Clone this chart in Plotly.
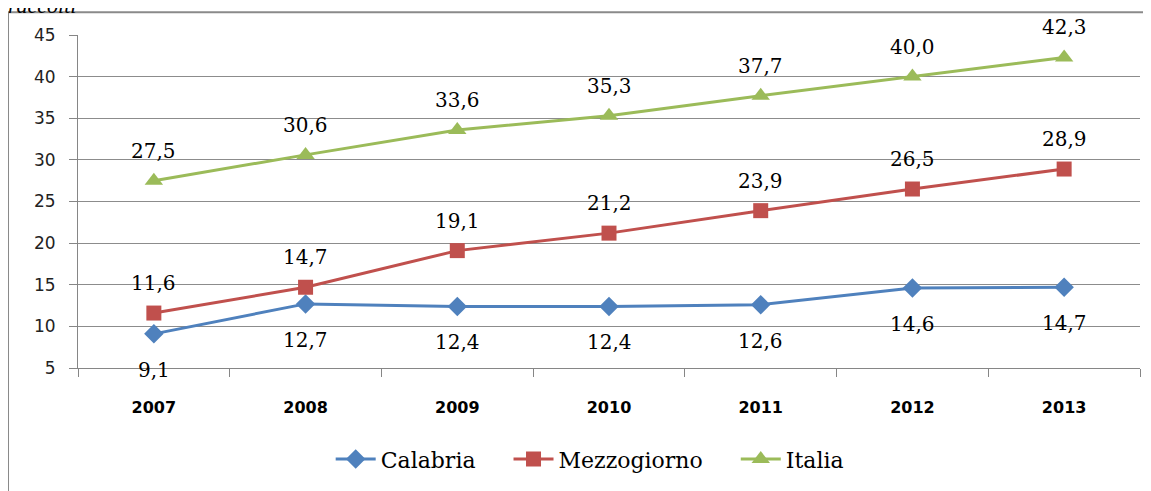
import plotly.graph_objects as go

years = ["2007", "2008", "2009", "2010", "2011", "2012", "2013"]
calabria = [9.1, 12.7, 12.4, 12.4, 12.6, 14.6, 14.7]
mezzogiorno = [11.6, 14.7, 19.1, 21.2, 23.9, 26.5, 28.9]
italia = [27.5, 30.6, 33.6, 35.3, 37.7, 40.0, 42.3]

series = [
    ("Calabria", calabria, "#4F81BD", "diamond", 15, -36),
    ("Mezzogiorno", mezzogiorno, "#C0504D", "square", 15, 30),
    ("Italia", italia, "#9BBB59", "triangle-up", 16, 30),
]

fig = go.Figure()
annotations = []
for name, vals, color, sym, msize, shift in series:
    fig.add_trace(go.Scatter(
        x=years, y=vals, name=name + "    ", mode="lines+markers",
        line=dict(color=color, width=3),
        marker=dict(symbol=sym, size=msize, color=color),
    ))
    for i, v in enumerate(vals):
        annotations.append(dict(
            x=i, y=v, xref="x", yref="y", text=f"{v:.1f}".replace(".", ","),
            showarrow=False, yshift=shift,
            font=dict(family="DejaVu Serif", size=20, color="black"),
        ))

annotations.append(dict(
    x=-0.068, y=1.046, xref="paper", yref="paper", xanchor="left", yanchor="bottom",
    text="<i>raccolti</i>", showarrow=False,
    font=dict(family="Liberation Serif", size=22, color="black"),
))

fig.update_layout(
    width=1143, height=483,
    margin=dict(l=70, r=11, t=27, b=120),
    paper_bgcolor="white", plot_bgcolor="white",
    annotations=annotations,
    showlegend=True,
    legend=dict(orientation="h", x=0.495, xanchor="center", y=-0.274, yanchor="middle",
                font=dict(family="DejaVu Serif", size=22, color="black"),
                itemwidth=40, tracegroupgap=0),
    shapes=[dict(type="rect", xref="paper", yref="paper",
                 x0=-0.0659, x1=1.03, y0=-0.45, y1=1.0685,
                 line=dict(color="#8a8a8a", width=2), layer="below")],
    xaxis=dict(
        type="category", range=[-0.5, 6.5],
        showline=True, linecolor="#868686", linewidth=1,
        ticks="outside", tickson="boundaries", ticklen=8, tickcolor="#868686",
        showgrid=False,
        tickfont=dict(family="DejaVu Sans", size=16, color="black", weight="bold"),
        ticklabelstandoff=25,
    ),
    yaxis=dict(
        range=[5, 45], dtick=5, tick0=5,
        showline=True, linecolor="#868686", linewidth=1,
        ticks="outside", ticklen=8, tickcolor="#868686",
        showgrid=True, gridcolor="#8c8c8c", gridwidth=1,
        zeroline=False,
        tickfont=dict(family="DejaVu Sans", size=17, color="#222"),
        ticklabelstandoff=10,
    ),
)

fig.write_html("out.html")
